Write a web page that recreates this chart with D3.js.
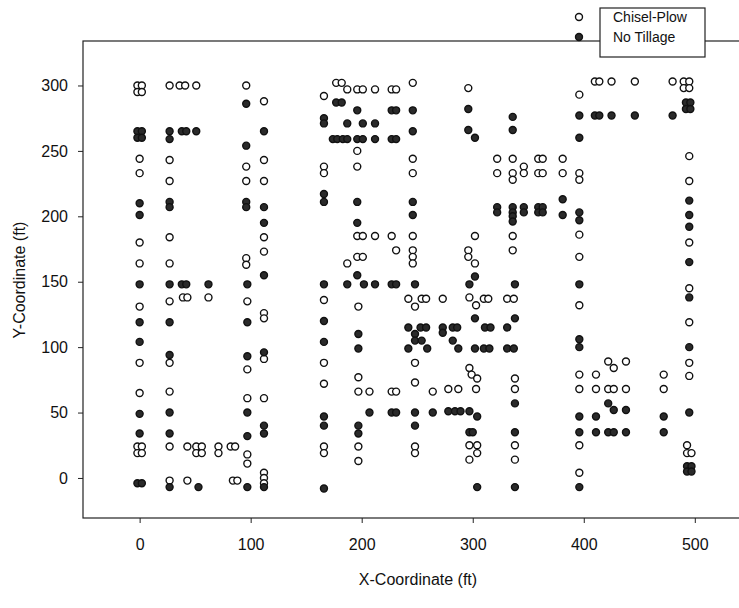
<!DOCTYPE html>
<html>
<head>
<meta charset="utf-8"/>
<script src="https://cdn.jsdelivr.net/npm/d3@7"></script>
<title>Sampling locations</title>
<style>
body { margin: 0; background: #fff; }
text { font-family: "Liberation Sans", Arial, sans-serif; fill: #111; }
</style>
</head>
<body>
<svg width="739" height="608"></svg>
<script>
var xTicks = [0, 100, 200, 300, 400, 500];
var yTicks = [0, 50, 100, 150, 200, 250, 300];
var seriesNames = ["Chisel-Plow", "No Tillage"];

// open circles
var chiselPlow = [
  [-2,300],[2,300],[-2,295],[2,295],[0,244],[0,233],[0,180],[0,164],[0,131],[0,88],[0,65],[-2,24],[2,24],[-2,19],[2,19],
  [27,300],[27,243],[27,227],[27,184],[27,164],[27,135],[27,88],[27,66],[27,24],[27,-2],
  [36,300],[41,300],[39,138],[43,138],[43,24],[43,-2],
  [51,300],[51,24],[56,24],[51,19],[56,19],[62,138],[71,24],[71,19],[82,24],[86,24],[84,-2],[88,-2],
  [96,300],[96,238],[96,227],[96,168],[96,163],[97,135],[97,83],[97,61],[97,18],[97,11],
  [112,288],[112,243],[112,227],[112,184],[112,173],[112,126],[112,122],[112,91],[112,61],[112,4],[112,0],[112,-4],
  [166,292],[166,238],[166,233],[166,136],[166,88],[166,72],[166,24],[166,19],
  [177,302],[182,302],[187,297],[187,164],
  [196,297],[196,250],[196,238],[196,185],[196,169],[197,131],[197,77],[197,66],[197,24],[197,13],[201,297],[201,185],[201,169],
  [207,66],[212,297],[212,185],
  [227,297],[231,297],[227,185],[231,174],[227,66],[231,66],
  [246,302],[246,244],[246,233],[246,185],[246,174],[246,169],[246,164],[242,137],[248,131],[248,88],[248,73],[248,24],[248,19],
  [254,137],[258,137],[264,66],[273,137],[278,68],[287,68],
  [296,298],[302,185],[296,174],[296,169],[302,164],[297,138],[303,132],[297,84],[299,79],[304,76],[303,68],[297,25],[304,25],[304,19],[297,14],
  [310,137],[314,137],[322,244],[322,233],
  [336,244],[336,233],[336,228],[336,185],[336,174],[331,137],[337,137],[338,76],[338,68],[338,25],[338,14],
  [346,238],[346,233],[359,244],[363,244],[359,233],[363,233],
  [381,244],[381,233],[396,293],[396,233],[396,228],[396,186],[396,169],[396,132],[396,79],[396,68],[396,25],[396,4],
  [410,303],[414,303],[425,303],[446,303],[422,89],[438,89],[427,84],[411,79],[411,68],[422,68],[427,68],[438,68],
  [480,303],[472,79],[472,68],
  [490,303],[495,303],[490,298],[495,298],[495,246],[495,227],[495,180],[495,145],[495,119],[495,88],[495,78],[493,25],[493,19],[497,19]
];

// filled circles
var noTillage = [
  [-2,265],[2,265],[-2,260],[2,260],[0,210],[0,201],[0,148],[0,119],[0,104],[0,49],[0,34],[-2,-4],[2,-4],
  [27,265],[27,259],[27,211],[27,207],[27,148],[27,119],[27,94],[27,50],[27,34],[27,-7],
  [38,265],[42,265],[38,148],[42,148],[51,265],[53,-7],[62,148],
  [96,286],[96,254],[96,211],[96,207],[97,148],[97,119],[97,93],[97,50],[97,32],[97,-7],
  [112,265],[112,207],[112,195],[112,155],[112,96],[112,40],[112,34],[112,-7],
  [166,275],[166,271],[166,217],[166,211],[166,148],[166,120],[166,104],[166,47],[166,40],[166,-8],
  [177,287],[182,287],[174,259],[178,259],[183,259],[187,259],[187,271],[187,148],
  [196,281],[196,259],[196,211],[196,195],[196,155],[197,110],[197,99],[197,40],[197,34],[201,271],[201,259],[202,148],
  [207,50],[212,271],[212,259],[212,148],
  [227,281],[231,281],[227,259],[231,259],[227,148],[231,148],[227,50],[231,50],
  [246,281],[246,265],[246,211],[246,201],[248,148],[242,115],[248,110],[248,105],[242,99],[248,50],[248,40],
  [253,115],[258,115],[254,105],[259,99],[264,50],
  [273,115],[273,111],[282,115],[286,115],[282,105],[287,99],[278,51],[284,51],[289,51],
  [296,282],[296,266],[302,260],[302,154],[297,148],[302,122],[302,99],[297,51],[304,47],[297,35],[300,35],[304,-7],
  [311,115],[316,115],[310,99],[315,99],[322,207],[322,203],
  [336,276],[336,266],[336,207],[336,203],[336,200],[336,196],[338,148],[331,115],[338,122],[331,99],[337,99],[338,57],[338,35],[338,-7],
  [346,207],[346,203],[359,207],[363,207],[359,203],[363,203],[381,213],[381,201],
  [396,277],[396,260],[396,203],[396,197],[396,148],[396,106],[396,100],[396,47],[396,35],[396,-7],
  [410,277],[414,277],[425,277],[446,277],[422,57],[427,52],[438,52],[411,47],[411,35],[422,35],[427,35],[438,35],
  [480,277],[472,47],[472,35],
  [492,287],[496,287],[492,282],[496,282],[495,212],[495,201],[495,192],[495,165],[495,138],[495,100],[495,50],[493,9],[497,9],[493,5],[497,5]
];

var svg = d3.select("svg"),
    mLeft = 83, mRight = 745, mTop = 41, mBottom = 518;

// 0 ft sits at 140px, 500 ft at 695px
var x = d3.scaleLinear().domain([-51, 545.2]).range([mLeft, mRight]);
var y = d3.scaleLinear().domain([-30.6, 334]).range([mBottom, mTop]);

// frame (its right side runs past the picture edge)
svg.append("rect")
    .attr("x", mLeft).attr("y", mTop)
    .attr("width", mRight - mLeft).attr("height", mBottom - mTop)
    .attr("fill", "none").attr("stroke", "#222").attr("stroke-width", 1.2);

var xAxis = svg.append("g")
    .attr("transform", "translate(0," + mBottom + ")")
    .call(d3.axisBottom(x).tickValues(xTicks).tickSize(5).tickPadding(16));
var yAxis = svg.append("g")
    .attr("transform", "translate(" + mLeft + ",0)")
    .call(d3.axisLeft(y).tickValues(yTicks).tickSize(5).tickPadding(10));

[xAxis, yAxis].forEach(function(g) {
  g.select(".domain").remove();
  g.selectAll("line").attr("stroke", "#222");
  g.selectAll("text").style("font-size", "16px").attr("fill", "#111");
});

svg.append("text")
    .attr("x", 418).attr("y", 585)
    .attr("text-anchor", "middle")
    .style("font-size", "16px")
    .text("X-Coordinate (ft)");

svg.append("text")
    .attr("transform", "translate(25,280) rotate(-90)")
    .attr("text-anchor", "middle")
    .style("font-size", "16px")
    .text("Y-Coordinate (ft)");

// points
svg.append("g").selectAll("circle")
    .data(chiselPlow)
  .enter().append("circle")
    .attr("cx", function(d) { return x(d[0]); })
    .attr("cy", function(d) { return y(d[1]); })
    .attr("r", 3.5)
    .attr("fill", "#fff")
    .attr("stroke", "#111")
    .attr("stroke-width", 1.4);

svg.append("g").selectAll("circle")
    .data(noTillage)
  .enter().append("circle")
    .attr("cx", function(d) { return x(d[0]); })
    .attr("cy", function(d) { return y(d[1]); })
    .attr("r", 3.5)
    .attr("fill", "#2a2a2a")
    .attr("stroke", "#111")
    .attr("stroke-width", 1.4);

// legend
var lg = svg.append("g");
lg.append("rect")
    .attr("x", 600).attr("y", 8)
    .attr("width", 105).attr("height", 49)
    .attr("fill", "#fff").attr("stroke", "#222").attr("stroke-width", 1.2);
lg.selectAll("circle")
    .data(seriesNames)
  .enter().append("circle")
    .attr("cx", 579)
    .attr("cy", function(d, i) { return 17 + i * 20; })
    .attr("r", 3.5)
    .attr("fill", function(d, i) { return i ? "#2a2a2a" : "#fff"; })
    .attr("stroke", "#111").attr("stroke-width", 1.4);
lg.selectAll("text")
    .data(seriesNames)
  .enter().append("text")
    .attr("x", 613)
    .attr("y", function(d, i) { return 22 + i * 20; })
    .style("font-size", "14px")
    .text(function(d) { return d; });
</script>
</body>
</html>
